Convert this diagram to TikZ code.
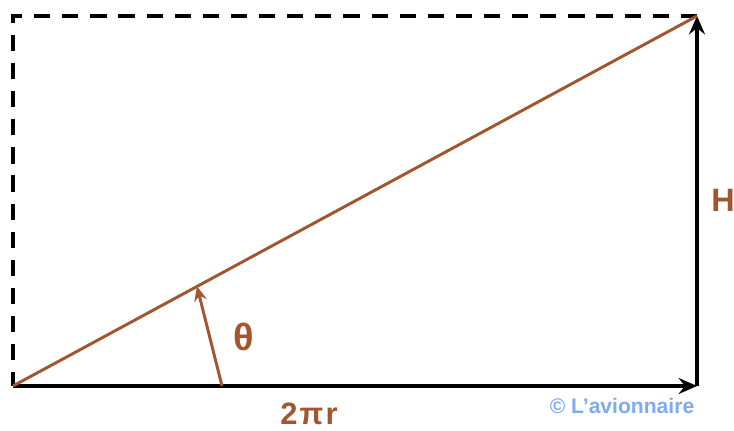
\documentclass[tikz,border=0pt]{standalone}
\usepackage{xcolor}
\usepackage{fontspec}
\setmainfont{Liberation Sans}
\usetikzlibrary{
    arrows.meta,
    calc
}
\definecolor{rustbrown}{RGB}{160,86,48}
\definecolor{signblue}{RGB}{125,170,245}

\begin{document}
\begin{tikzpicture}[
    side/.style={
        line width=2.6pt,
        draw=black
    },
    sidearrow/.style={
        side,
        -{Stealth[length=4.6mm,width=4mm,inset=1.6mm]}
    },
    guide/.style={
        line width=2.6pt,
        draw=black,
        dash pattern=on 11.5pt off 8.5pt
    },
    slope/.style={
        line width=2.1pt,
        draw=rustbrown
    },
    anglearrow/.style={
        line width=2.1pt,
        draw=rustbrown,
        -{Stealth[length=3.6mm,width=3.2mm,inset=1.2mm]}
    },
    label/.style={
        font=\fontsize{23}{23}\selectfont\bfseries,
        text=rustbrown,
        inner sep=0pt
    },
    credit/.style={
        font=\fontsize{15}{15}\selectfont\bfseries,
        text=signblue,
        inner sep=0pt
    }
]
\useasboundingbox (0,0) rectangle (18.35,10.775);

% =========================================================
% Corners of the unrolled helix
% =========================================================
\coordinate (origin) at (0.325,1.125);
\coordinate (base) at (17.425,1.125);
\coordinate (top) at (17.425,10.375);
\coordinate (corner) at (0.325,10.375);
\coordinate (foot) at (5.55,1.125);
\coordinate (hit) at ($(origin)!0.269!(top)$);

% =========================================================
% Sides
% =========================================================
\draw[guide] (top) -- (corner) -- (origin);
\draw[sidearrow] (origin) -- (base);
\draw[sidearrow] (base) -- (top);
\draw[slope] (origin) -- (top);
\draw[anglearrow] (foot) -- (hit);

% =========================================================
% Labels
% =========================================================
\node[label, font=\fontsize{27}{27}\selectfont\bfseries] (theta) at (6.1,2.35) {θ};
\node[label, anchor=base, font=\fontsize{22}{22}\selectfont\bfseries] (circ) at (7.725,0.16) {2\kern1.5ptπ\kern1.5ptr};
\node[label] (height) at (18.075,5.775) {H};
\node[credit, anchor=base] (mark) at (15.55,0.425) {© L'avionnaire};

\end{tikzpicture}
\end{document}
